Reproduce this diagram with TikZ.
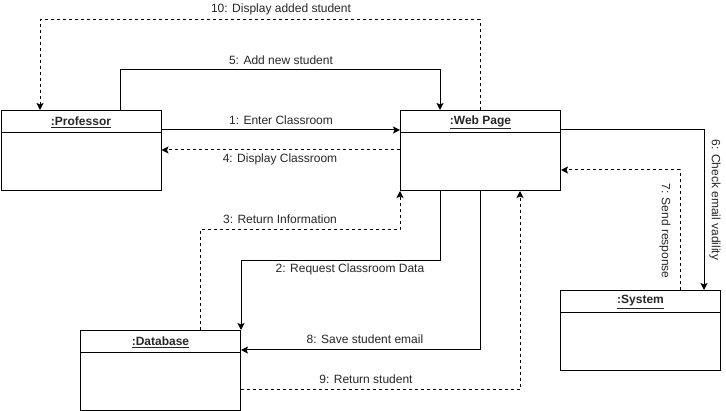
\documentclass[tikz,border=0pt]{standalone}
\usepackage{fontspec}
\setmainfont{Liberation Sans}
\usetikzlibrary{arrows.meta,calc}
\begin{document}
\begin{tikzpicture}[x=1pt,y=-1pt,
 obj/.style={draw,line width=1pt,minimum width=160pt,minimum height=80pt,anchor=north west,inner sep=0pt},
 head/.style={font=\fontsize{12}{14}\selectfont\bfseries,text=black!85,inner sep=0pt},
 msg/.style={line width=1pt,-{Stealth[length=7pt,width=7pt,inset=1.5pt]}},
 ret/.style={msg,dash pattern=on 3pt off 3pt},
 lbl/.style={font=\fontsize{12}{14}\selectfont,inner sep=0pt,text=black!85}]
\useasboundingbox (0,0) rectangle (726,411);
% objects
\node[obj] (prof) at (0.5,110) {};
\node[obj] (web) at (400,110) {};
\node[obj] (sys) at (560,290) {};
\node[obj] (db) at (80,330) {};
\foreach \n/\t in {prof/:Professor,web/:Web Page,sys/:System,db/:Database}{
  \node[head] (\n-t) at ($(\n.north)+(0pt,-12pt)$) {\underline{\t}};
  \draw[line width=1pt] ([yshift=-23pt]\n.north west) -- ([yshift=-23pt]\n.north east);
}
% messages
\draw[msg] ([yshift=-20pt]prof.north east) -- ([yshift=-20pt]web.north west);
\draw[ret] ([yshift=-40pt]web.north west) -- ([yshift=-40pt]prof.north east);
\draw[msg] ([xshift=119.5pt]prof.north west) -- ++(0pt,40pt) -| ([xshift=40pt]web.north west);
\draw[ret] ([xshift=80pt]web.north west) -- ++(0pt,90pt) -| ([xshift=39.5pt]prof.north west);
\draw[msg] ([yshift=-20pt]web.north east) -| ([xshift=144pt]sys.north west);
\draw[ret] ([xshift=120pt]sys.north west) |- ([yshift=-60pt]web.north east);
\draw[msg] ([xshift=40pt]web.south west) -- ++(0pt,-70pt) -| (db.north east);
\draw[ret] ([xshift=120pt]db.north west) -- ++(0pt,100pt) -| (web.south west);
\draw[msg] ([xshift=80pt]web.south west) |- ([yshift=-20pt]db.north east);
\draw[ret] ([yshift=-60pt]db.north east) -| ([xshift=120pt]web.south west);
% labels
\node[lbl] (l10) at (281,9) {10: Display added student};
\node[lbl] (l5) at (281,60) {5: Add new student};
\node[lbl] (l1) at (281,120) {1: Enter Classroom};
\node[lbl] (l4) at (280,159) {4: Display Classroom};
\node[lbl] (l3) at (280,219) {3: Return Information};
\node[lbl] (l2) at (350,269) {2: Request Classroom Data};
\node[lbl] (l8) at (365,339) {8: Save student email};
\node[lbl] (l9) at (366,379) {9: Return student};
\node[lbl,rotate=-90] (l6) at (715,200) {6: Check email vadility};
\node[lbl,rotate=-90] (l7) at (665,231) {7: Send response};
\end{tikzpicture}
\end{document}
